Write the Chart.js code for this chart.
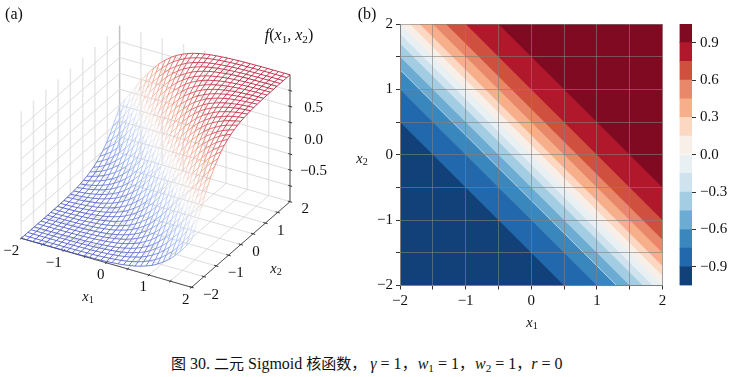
<!DOCTYPE html>
<html>
<head>
<meta charset="utf-8">
<script src="https://cdn.jsdelivr.net/npm/chart.js@4"></script>
<style>
  html, body { margin: 0; padding: 0; background: #fff; }
  body { position: relative; width: 737px; height: 377px; overflow: hidden; font-family: "Liberation Serif", "Noto Sans CJK SC", serif; color: #111; }
  canvas { position: absolute; display: block; }
  .lab { position: absolute; transform: translate(-50%, -50%); white-space: nowrap; font-size: 14.5px; line-height: 1; }
  .lab.big { font-size: 16px; }
  .lab sub, #caption sub { font-size: 70%; line-height: 0; vertical-align: -0.25em; }
  #caption { position: absolute; left: 171px; top: 355px; white-space: nowrap; font-size: 16px; line-height: 18px; }
  #caption .zh { font-size: 15px; }
  #caption .gap { margin-left: 4px; }
  #caption .gap1 { margin-left: 1px; }
</style>
</head>
<body>
<canvas id="surfaceChart" width="345" height="340" style="left:0;top:0"></canvas>
<canvas id="contourChart" width="330" height="340" style="left:350px;top:0"></canvas>
<canvas id="colorbarChart" width="77" height="340" style="left:660px;top:0"></canvas>

<div class="lab big" style="left:14px;top:14px">(a)</div>
<div class="lab big" style="left:367px;top:14px">(b)</div>
<div class="lab big" style="left:289px;top:35px"><i>f</i>(<i>x</i><sub>1</sub>, <i>x</i><sub>2</sub>)</div>
<div class="lab" style="left:88px;top:296px"><i>x</i><sub>1</sub></div>
<div class="lab" style="left:276px;top:268px"><i>x</i><sub>2</sub></div>
<div class="lab" style="left:532px;top:322px"><i>x</i><sub>1</sub></div>
<div class="lab" style="left:362px;top:158px"><i>x</i><sub>2</sub></div>
<div id="caption"><span class="zh">图</span> 30. <span class="zh">二元</span> Sigmoid <span class="zh">核函数，</span><i class="gap">γ</i> = 1<span class="zh">，</span><i class="gap1">w</i><sub>1</sub> = 1<span class="zh">，</span><i class="gap1">w</i><sub>2</sub> = 1<span class="zh">，</span><i>r</i> = 0</div>

<script>
// mesh of the left surface
const meshCoords = [-2, -1.87, -1.73, -1.6, -1.47, -1.33, -1.2, -1.07, -0.93, -0.8, -0.67, -0.53, -0.4, -0.27, -0.13, 0,
  0.13, 0.27, 0.4, 0.53, 0.67, 0.8, 0.93, 1.07, 1.2, 1.33, 1.47, 1.6, 1.73, 1.87, 2];
// height of the surface along x1 + x2, one value per mesh step from -4 to 4
const surfaceHeights = [-0.999, -0.999, -0.999, -0.999, -0.999, -0.998, -0.998, -0.997, -0.997, -0.996, -0.994, -0.993, -0.990, -0.988, -0.984,
  -0.979, -0.972, -0.964, -0.953, -0.940, -0.922, -0.899, -0.870, -0.834, -0.788, -0.732, -0.664, -0.583, -0.488, -0.380, -0.260, -0.132, 0,
  0.132, 0.260, 0.380, 0.488, 0.583, 0.664, 0.732, 0.788, 0.834, 0.870, 0.899, 0.922, 0.940, 0.953, 0.964, 0.972,
  0.979, 0.984, 0.988, 0.990, 0.993, 0.994, 0.996, 0.997, 0.997, 0.998, 0.998, 0.999];
const axisTicks3d = [-2, -1.5, -1, -0.5, 0, 0.5, 1, 1.5, 2];
const zTicks3d = [-0.75, -0.5, -0.25, 0, 0.25, 0.5, 0.75];
const axisLabels3d = [-2, -1, 0, 1, 2];
const zLabels3d = [-0.5, 0, 0.5];
const meshColorStops = ['#3b4cc0', '#94b4ff', '#f0eeee', '#f49a7b', '#b40426'];

// right panel: x1 + x2 where each colour band starts, and the colours low to high
const bandEdges = [-1.5, -1, -0.7, -0.5, -0.3, -0.15, 0, 0.15, 0.3, 0.5, 0.7, 1, 1.5];
const bandColors = ['#114178', '#2268ad', '#3a87bd', '#6cacd2', '#a3cde3', '#cfe3ef', '#e9f0f4',
  '#f8efe9', '#fcd7c2', '#f6ae8b', '#e8876a', '#d0503f', '#b2182b', '#7f0a22'];
const seamEdge = -0.7;
const colorbarLevels = [-1.05, -0.9, -0.75, -0.6, -0.45, -0.3, -0.15, 0, 0.15, 0.3, 0.45, 0.6, 0.75, 0.9, 1.05];
const colorbarTicks = [-0.9, -0.6, -0.3, 0, 0.3, 0.6, 0.9];

const FONT = '"Liberation Serif", serif';
const fmt = (v, d) => v.toFixed(d).replace('-', '\u2212');

// orthographic view of the 3d box onto the left canvas
function project(x1, x2, z) {
  return {
    x: 155.6 + 42.6 * x1 + 24.6 * x2,
    y: 220 + 12.25 * x1 - 21.4 * x2 - 63.5 * (z + 1)
  };
}

function meshColor(z) {
  const t = Math.min(0.9999, Math.max(0, (z + 1) / 2)) * (meshColorStops.length - 1);
  const i = Math.floor(t), f = t - i;
  const hex = s => [1, 3, 5].map(k => parseInt(s.substr(k, 2), 16));
  const a = hex(meshColorStops[i]), b = hex(meshColorStops[i + 1]);
  return 'rgb(' + a.map((c, k) => Math.round(c + (b[k] - c) * f)).join(',') + ')';
}

function line3d(points, color, width) {
  return { data: points.map(p => project(p[0], p[1], p[2])), borderColor: color, borderWidth: width, showLine: true, pointRadius: 0 };
}

const surfaceSets = [];
// left and back walls
axisTicks3d.forEach(t => {
  surfaceSets.push(line3d([[-2, t, -1], [-2, t, 1]], t === 2 ? '#c4c4c4' : '#e6e6e6', 1.5));
  if (t > -2) surfaceSets.push(line3d([[t, 2, -1], [t, 2, 1]], '#e6e6e6', 1.5));
});
zTicks3d.forEach(z => {
  surfaceSets.push(line3d([[-2, -2, z], [-2, 2, z]], '#dcdcdc', 1));
  surfaceSets.push(line3d([[-2, 2, z], [2, 2, z]], '#dcdcdc', 1));
});
// floor
axisTicks3d.forEach(t => {
  surfaceSets.push(line3d([[t, -2, -1], [t, 2, -1]], '#d4d4d4', 0.8));
  surfaceSets.push(line3d([[-2, t, -1], [2, t, -1]], '#d4d4d4', 0.8));
});
// axis lines and tick marks
surfaceSets.push(line3d([[-2, -2, -1], [2, -2, -1]], '#555', 1));
surfaceSets.push(line3d([[2, -2, -1], [2, 2, -1]], '#555', 1));
surfaceSets.push(line3d([[2, 2, -1], [2, 2, 1]], '#8c8c8c', 1.5));
axisTicks3d.forEach(t => {
  surfaceSets.push(line3d([[t, -2.05, -1], [t, -1.95, -1]], '#333', 1));
  surfaceSets.push(line3d([[1.95, t, -1], [2.05, t, -1]], '#333', 1));
});
zTicks3d.forEach(z => surfaceSets.push(line3d([[1.96, 2, z], [2.05, 2, z]], '#333', 1)));

// wire mesh, every segment coloured by its height
function meshLine(getPoint) {
  const raw = meshCoords.map((_, k) => getPoint(k));
  const set = line3d(raw, '#888', 0.8);
  set.zs = raw.map(p => p[2]);
  set.segment = { borderColor: c => meshColor((set.zs[c.p0DataIndex] + set.zs[c.p1DataIndex]) / 2) };
  return set;
}
meshCoords.forEach((a, i) => {
  surfaceSets.push(meshLine(k => [a, meshCoords[k], surfaceHeights[i + k]]));
  surfaceSets.push(meshLine(k => [meshCoords[k], a, surfaceHeights[i + k]]));
});

// tick labels of the 3d axes
const surfaceLabels = {
  id: 'surfaceLabels',
  afterDraw(chart) {
    const { ctx, scales } = chart;
    const put = (text, p, dx, dy, align) => {
      ctx.textAlign = align;
      ctx.fillText(text, scales.x.getPixelForValue(p.x) + dx, scales.y.getPixelForValue(p.y) + dy);
    };
    ctx.save();
    ctx.font = '15px ' + FONT;
    ctx.fillStyle = '#111';
    ctx.textBaseline = 'middle';
    axisLabels3d.forEach(t => {
      put(fmt(t, 0), project(t, -2, -1), -2, 12.5, 'right');
      put(fmt(t, 0), project(2, t, -1), 11.5, 7.5, 'left');
    });
    zLabels3d.forEach(z => put(fmt(z, 1), project(2, 2, z), 23.5, 1.5, 'center'));
    ctx.restore();
  }
};

// chart.js paints the first dataset last, so the lists are reversed to keep the mesh on top
new Chart(document.getElementById('surfaceChart').getContext('2d'), {
  type: 'scatter',
  data: { datasets: surfaceSets.reverse() },
  options: {
    responsive: false,
    animation: false,
    events: [],
    layout: { padding: 0 },
    plugins: { legend: { display: false }, tooltip: { enabled: false } },
    scales: {
      x: { type: 'linear', display: false, min: 0, max: 345 },
      y: { type: 'linear', display: false, min: 0, max: 340, reverse: true }
    }
  },
  plugins: [surfaceLabels]
});

// part of the square [-2, 2]^2 where x1 + x2 >= edge
function clipSquare(edge) {
  const square = [[-2, -2], [2, -2], [2, 2], [-2, 2]];
  const out = [];
  square.forEach((p, i) => {
    const q = square[(i + 1) % 4];
    const dp = p[0] + p[1] - edge, dq = q[0] + q[1] - edge;
    if (dp >= 0) out.push({ x: p[0], y: p[1] });
    if (dp * dq < 0) {
      const t = dp / (dp - dq);
      out.push({ x: p[0] + (q[0] - p[0]) * t, y: p[1] + (q[1] - p[1]) * t });
    }
  });
  out.push(out[0]);
  return out;
}

const contourSets = bandColors.map((color, i) => ({
  data: i === 0 ? clipSquare(-4) : clipSquare(bandEdges[i - 1]),
  showLine: true,
  pointRadius: 0,
  borderWidth: 0,
  backgroundColor: color,
  fill: 'shape'
}));
contourSets.push({
  data: clipSquare(seamEdge).filter(p => Math.abs(p.x + p.y - seamEdge) < 1e-6).slice(0, 2),
  showLine: true,
  pointRadius: 0,
  borderColor: 'rgba(255,255,255,0.8)',
  borderWidth: 0.7
});

function contourAxis(extra) {
  return Object.assign({
    type: 'linear',
    min: -2,
    max: 2,
    ticks: {
      stepSize: 0.5,
      autoSkip: false,
      maxRotation: 0,
      padding: 3,
      color: '#111',
      font: { family: FONT, size: 15 },
      callback: v => Number.isInteger(v) ? fmt(v, 0) : ''
    },
    grid: { z: 1, color: 'rgba(128,128,128,0.6)', lineWidth: 1, tickColor: '#333', tickLength: 4 },
    border: { color: '#808080', width: 1, z: 2 }
  }, extra);
}

new Chart(document.getElementById('contourChart').getContext('2d'), {
  type: 'scatter',
  data: { datasets: contourSets.reverse() },
  options: {
    responsive: false,
    animation: false,
    events: [],
    layout: { padding: { top: 24, right: 17.5, left: 0, bottom: 0 } },
    plugins: { legend: { display: false }, tooltip: { enabled: false } },
    scales: {
      x: contourAxis({ afterFit: s => { s.height = 54.5; } }),
      y: contourAxis({ afterFit: s => { s.width = 50; } })
    }
  }
});

new Chart(document.getElementById('colorbarChart').getContext('2d'), {
  type: 'bar',
  data: {
    labels: [''],
    datasets: bandColors.map((color, i) => ({
      data: [[colorbarLevels[i], colorbarLevels[i + 1]]],
      backgroundColor: color,
      barPercentage: 1,
      categoryPercentage: 1
    }))
  },
  options: {
    responsive: false,
    animation: false,
    events: [],
    layout: { padding: { top: 24, left: 19.5, right: 0, bottom: 54.5 } },
    plugins: { legend: { display: false }, tooltip: { enabled: false } },
    scales: {
      x: { display: false, stacked: true },
      y: {
        position: 'right',
        min: -1.05,
        max: 1.05,
        afterBuildTicks: s => { s.ticks = colorbarTicks.map(v => ({ value: v })); },
        afterFit: s => { s.width = 45; },
        ticks: {
          padding: 4,
          color: '#111',
          font: { family: FONT, size: 15 },
          callback: v => fmt(v, 1)
        },
        grid: { drawOnChartArea: false, tickColor: '#333', tickLength: 4 },
        border: { display: false }
      }
    }
  }
});
</script>
</body>
</html>
